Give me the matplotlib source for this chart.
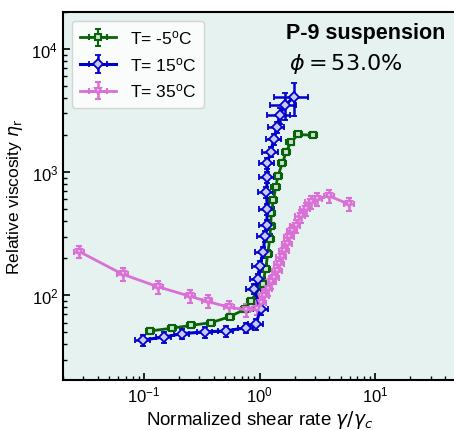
import matplotlib.pyplot as plt
import numpy as np

plt.rcParams['font.family'] = ['Liberation Sans', 'DejaVu Sans']
plt.rcParams['mathtext.fontset'] = 'dejavusans'

# T = -5 C (green squares)
x_m5 = [0.113, 0.174, 0.257, 0.383, 0.551, 0.747, 0.837, 1.06, 1.126, 1.172, 1.22, 1.244,
        1.261, 1.313, 1.374, 1.438, 1.569, 1.698, 1.850, 2.155, 2.88]
y_m5 = [51.3, 54, 57, 60, 67, 77, 90, 123, 163, 215, 285, 364,
        464, 589, 751, 933, 1183, 1462, 1743, 2026, 1988]

# T = 15 C (blue diamonds)
x_15 = [0.0975, 0.150, 0.213, 0.336, 0.509, 0.768, 0.924, 1.02, 0.893, 0.974, 1.0, 1.076,
        1.111, 1.149, 1.165, 1.142, 1.165, 1.165, 1.244, 1.328, 1.401, 1.496, 1.652, 1.975]
y_15 = [43.3, 45.8, 48.8, 50.4, 51.3, 54.6, 58, 77, 113, 135, 173, 225,
        303, 373, 500, 684, 906, 1183, 1462, 1854, 2306, 2904, 3505, 4048]

# T = 35 C (orchid triangles)
x_35 = [0.0277, 0.0655, 0.133, 0.251, 0.354, 0.543, 0.757, 0.955, 1.026, 1.098, 1.172,
        1.251, 1.339, 1.410, 1.479, 1.548, 1.633, 1.719, 1.803, 1.897, 2.044, 2.257,
        2.49, 2.75, 3.14, 3.96, 5.89]
y_35 = [226, 148, 117, 98, 89, 80, 76, 78, 87, 98.7, 112,
        127, 139, 158, 179, 203, 229, 260, 295, 334, 366, 441,
        500, 567, 603, 641, 550]

labels = ['T= -5$\\mathregular{^o}$C', 'T= 15$\\mathregular{^o}$C', 'T= 35$\\mathregular{^o}$C']

x_m5, y_m5 = np.array(x_m5), np.array(y_m5)
x_15, y_15 = np.array(x_15), np.array(y_15)
x_35, y_35 = np.array(x_35), np.array(y_35)

# relative errors
xe_15 = 0.15 * x_15
xe_15[-3:] = [0.22 * x_15[-3], 0.25 * x_15[-2], 0.33 * x_15[-1]]
ye_15 = 0.10 * y_15
ye_15[-3:] = [0.15 * y_15[-3], 0.25 * y_15[-2], 0.3 * y_15[-1]]

fig = plt.figure(figsize=(4.54, 4.31), dpi=100)
ax = fig.add_axes([0.139, 0.116, 0.866, 0.854])
ax.set_facecolor('#e6f2ef')

ax.errorbar(x_m5, y_m5, xerr=0.08 * x_m5, yerr=0.05 * y_m5, color='#086408', marker='s',
            ms=5, mfc='#cfe0cf', mew=1.5, lw=2, elinewidth=1.5, capsize=2, label=labels[0])
ax.errorbar(x_15, y_15, xerr=xe_15, yerr=ye_15, color='#0000cd', marker='D',
            ms=5, mfc='#c8c8f5', mew=1.3, lw=2.2, elinewidth=1.8, capsize=2.5, label=labels[1])
ax.errorbar(x_35, y_35, xerr=0.1 * x_35, yerr=0.12 * y_35, color='#da70d6', marker='v',
            ms=5, mfc='#f0c8ee', mew=1.5, lw=2, elinewidth=1.8, capsize=2.5, label=labels[2])

ax.set_xscale('log')
ax.set_yscale('log')
ax.set_xlim(0.02, 50)
ax.set_ylim(20.5, 20000)

ax.tick_params(which='both', direction='in', top=False, right=False, labelsize=12)
ax.tick_params(which='major', length=5, width=1.2)
ax.tick_params(which='minor', length=3, width=1)
for s in ax.spines.values():
    s.set_linewidth(1.5)

ax.set_xlabel('Normalized shear rate $\\gamma/\\gamma_c$', fontsize=13.5, labelpad=2)
ax.set_ylabel('Relative viscosity $\\eta_\\mathrm{r}$', fontsize=12.5, labelpad=5)

ax.text(0.77, 0.945, 'P-9 suspension', transform=ax.transAxes, fontsize=15.5,
        fontweight='bold', ha='center', va='center')
ax.text(0.72, 0.862, '$\\phi = 53.0\\%$', transform=ax.transAxes, fontsize=16,
        ha='center', va='center')

ax.legend(loc='upper left', fontsize=12.5, handlelength=2.1, borderpad=0.45,
          labelspacing=0.5, framealpha=0.8)

fig.savefig('out.png', dpi=100)
